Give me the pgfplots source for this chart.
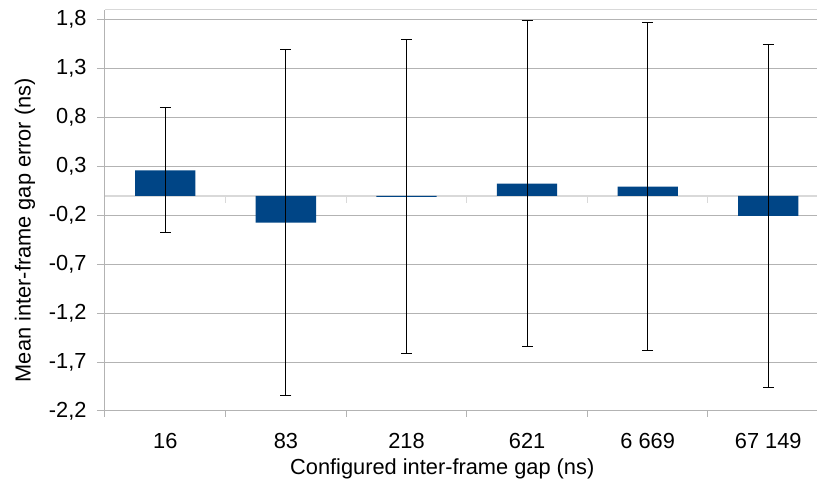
\documentclass[border=0pt]{standalone}
\usepackage{fontspec}
\setmainfont{Liberation Sans}
\usepackage{pgfplots}
\usepackage{pgfplotstable}
\pgfplotsset{compat=1.18}
\definecolor{barblue}{HTML}{004586}
\definecolor{gridgray}{HTML}{B3B3B3}
\definecolor{lightline}{HTML}{D9D9D9}

\pgfplotstableread{
x y err
0 0.26 0.64
1 -0.275 1.77
2 -0.01 1.605
3 0.125 1.667
4 0.095 1.68
5 -0.205 1.75
}\datatable

\begin{document}
\begin{tikzpicture}[font=\fontsize{21.8bp}{26bp}\selectfont]
\begin{axis}[
  at={(0,0)}, anchor=south west,
  scale only axis, width=712bp, height=401bp,
  xmin=-0.5, xmax=5.404, ymin=-2.2, ymax=1.9,
  ybar,
  axis lines*=left,
  axis line style={gridgray, line width=1bp},
  tick align=outside,
  ytick={-2.2,-1.7,-1.2,-0.7,-0.2,0.3,0.8,1.3,1.8},
  ymajorgrids,
  major grid style={gridgray, line width=1bp},
  /pgf/number format/assume math mode=true,
  yticklabel style={/pgf/number format/fixed, /pgf/number format/fixed zerofill,
    /pgf/number format/precision=1, /pgf/number format/use comma,
    /pgf/number format/assume math mode=true, xshift=-7bp},
  major tick length=8bp,
  minor tick length=6bp,
  y tick style={gridgray, line width=1bp},
  xtick={0,1,2,3,4,5},
  xticklabels={16,83,218,621,6 669,67 149},
  major x tick style={draw=none},
  minor xtick={-0.5,0.5,1.5,2.5,3.5,4.5},
  minor x tick style={gridgray, line width=1bp},
  xticklabel style={yshift=-11bp},
  xlabel={Configured inter-frame gap (ns)},
  ylabel={Mean inter-frame gap error (ns)},
  xlabel style={at={(axis description cs:0.4737,-0.1589)}, anchor=base},
  ylabel style={at={(axis description cs:-0.10435,0.451)}, anchor=base},
]
\draw[lightline, line width=1bp] (axis cs:-0.5,1.9) -- (axis cs:5.404,1.9);
\draw[lightline, line width=2bp] (axis cs:-0.5,0) -- (axis cs:5.404,0);
\draw[lightline, line width=1bp] (axis cs:0.5,0) -- ([yshift=-7.5bp]axis cs:0.5,0);
\draw[lightline, line width=1bp] (axis cs:1.5,0) -- ([yshift=-7.5bp]axis cs:1.5,0);
\draw[lightline, line width=1bp] (axis cs:2.5,0) -- ([yshift=-7.5bp]axis cs:2.5,0);
\draw[lightline, line width=1bp] (axis cs:3.5,0) -- ([yshift=-7.5bp]axis cs:3.5,0);
\draw[lightline, line width=1bp] (axis cs:4.5,0) -- ([yshift=-7.5bp]axis cs:4.5,0);
\addplot[ybar, bar width=0.5, fill=barblue, draw=none,
  error bars/.cd, y dir=both, y explicit,
  error bar style={draw=black, line width=1bp},
  error mark options={rotate=90, draw=black, line width=1bp, mark size=5.5bp}]
  table[x=x, y=y, y error=err]{\datatable};
\end{axis}
\pgfresetboundingbox
\path (-105bp,-70bp) rectangle (712bp,411bp);
\end{tikzpicture}
\end{document}
